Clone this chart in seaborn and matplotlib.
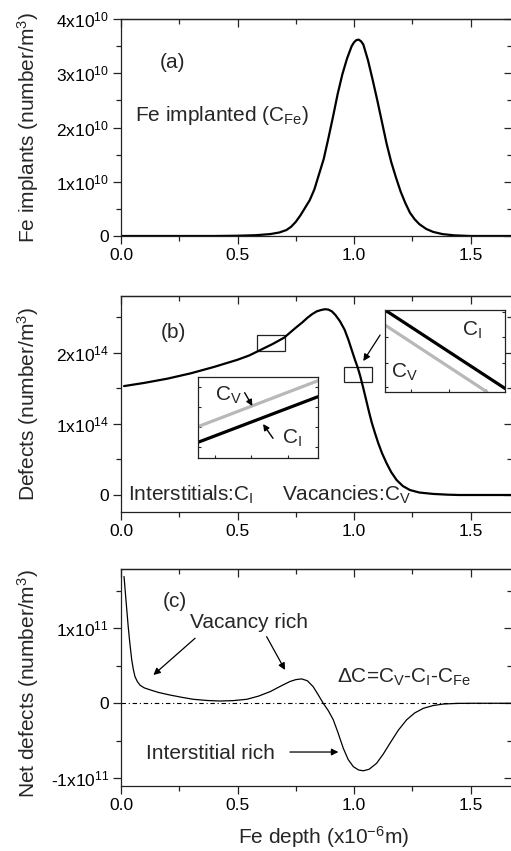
import matplotlib
matplotlib.use("Agg")
import matplotlib.pyplot as plt
import seaborn as sns
import pandas as pd
from matplotlib.patches import Rectangle
from matplotlib.ticker import NullFormatter

# ---------------- data ----------------
# panel (a): Fe implant profile, units of 1e10 number/m^3
depth_a = [0.00, 0.40, 0.50, 0.58, 0.64, 0.68, 0.71, 0.73, 0.75, 0.77, 0.79, 0.81,
           0.83, 0.85, 0.87, 0.89, 0.91, 0.93, 0.95, 0.97, 0.99, 1.00, 1.01, 1.02,
           1.03, 1.04, 1.06, 1.08, 1.10, 1.12, 1.14, 1.16, 1.18, 1.20, 1.22, 1.24,
           1.26, 1.28, 1.31, 1.34, 1.38, 1.43, 1.50, 1.68]
fe_implants = [0.00, 0.00, 0.005, 0.015, 0.035, 0.065, 0.11, 0.17, 0.26, 0.38, 0.52, 0.66,
               0.86, 1.14, 1.42, 1.80, 2.20, 2.62, 2.98, 3.27, 3.50, 3.57, 3.61, 3.62,
               3.59, 3.53, 3.24, 2.88, 2.50, 2.10, 1.70, 1.36, 1.08, 0.82, 0.61, 0.43,
               0.31, 0.22, 0.13, 0.075, 0.035, 0.012, 0.00, 0.00]

# panel (b): defects, units of 1e14 number/m^3
depth_b = [0.013, 0.10, 0.20, 0.30, 0.40, 0.50, 0.55, 0.60, 0.65, 0.70, 0.75, 0.78,
           0.80, 0.82, 0.84, 0.86, 0.876, 0.89, 0.905, 0.92, 0.94, 0.96, 0.976, 0.99,
           1.004, 1.015, 1.026, 1.040, 1.054, 1.065, 1.076, 1.09, 1.104, 1.12, 1.14,
           1.16, 1.183, 1.21, 1.24, 1.28, 1.34, 1.40, 1.45, 1.68]
defects = [1.53, 1.575, 1.635, 1.71, 1.80, 1.90, 1.96, 2.04, 2.12, 2.21, 2.35, 2.43,
           2.49, 2.54, 2.58, 2.60, 2.61, 2.605, 2.58, 2.53, 2.44, 2.32, 2.18, 2.04,
           1.90, 1.80, 1.68, 1.50, 1.31, 1.16, 1.02, 0.87, 0.73, 0.59, 0.445,
           0.32, 0.21, 0.125, 0.07, 0.035, 0.015, 0.005, 0.00, 0.00]

# panel (c): net defects, units of 1e11 number/m^3
depth_c = [0.013, 0.022, 0.031, 0.038, 0.046, 0.053, 0.060, 0.070, 0.082, 0.10, 0.124,
           0.16, 0.21, 0.26, 0.31, 0.37, 0.425, 0.48, 0.54, 0.59, 0.64, 0.68, 0.725,
           0.75, 0.775, 0.80, 0.825, 0.845, 0.868, 0.89, 0.911, 0.93, 0.954, 0.975,
           0.997, 1.02, 1.040, 1.065, 1.097, 1.125, 1.155, 1.19, 1.226, 1.26, 1.298,
           1.34, 1.384, 1.44, 1.51, 1.68]
net_defects = [1.69, 1.35, 1.02, 0.80, 0.58, 0.45, 0.355, 0.29, 0.24, 0.205, 0.18,
               0.145, 0.11, 0.08, 0.053, 0.037, 0.03, 0.035, 0.053, 0.095, 0.155, 0.22,
               0.29, 0.315, 0.325, 0.30, 0.22, 0.12, 0.0, -0.10, -0.22, -0.38, -0.60,
               -0.75, -0.845, -0.89, -0.90, -0.88, -0.80, -0.68, -0.53, -0.36, -0.22,
               -0.13, -0.067, -0.03, -0.01, -0.002, 0.0, 0.0]

# zoom insets (normalised inset coordinates)
inset_x = [0.0, 1.0]
inset1_cv = [0.388, 0.951]
inset1_ci = [0.196, 0.755]
inset2_ci_x = [0.0, 1.0]
inset2_ci = [1.0, 0.04]
inset2_cv_x = [0.0, 0.847]
inset2_cv = [0.816, 0.0]

x_ticks = [0.0, 0.5, 1.0, 1.5]
x_minor = [0.25, 0.75, 1.25]
x_tick_labels = ["0.0", "0.5", "1.0", "1.5"]
a_yticks = [0, 1, 2, 3, 4]
a_ylabels = ["0", "1x10$^{10}$", "2x10$^{10}$", "3x10$^{10}$", "4x10$^{10}$"]
b_yticks = [0, 1, 2]
b_ylabels = ["0", "1x10$^{14}$", "2x10$^{14}$"]
c_yticks = [-1, 0, 1]
c_ylabels = ["-1x10$^{11}$", "0", "1x10$^{11}$"]

# ---------------- style ----------------
sns.set_theme(style="ticks")
plt.rcParams["font.family"] = ["Liberation Sans", "DejaVu Sans"]
plt.rcParams["mathtext.fontset"] = "custom"
plt.rcParams["mathtext.rm"] = "Liberation Sans"
plt.rcParams["mathtext.it"] = "Liberation Sans:italic"
plt.rcParams["mathtext.bf"] = "Liberation Sans:bold"
plt.rcParams["mathtext.default"] = "regular"
plt.rcParams["axes.edgecolor"] = "#222222"
plt.rcParams["axes.linewidth"] = 0.9

W, H = 511, 851
fig = plt.figure(figsize=(W / 100, H / 100), dpi=100)


def px_axes(left, top, right, bottom):
    return fig.add_axes([left / W, 1 - bottom / H, (right - left) / W, (bottom - top) / H])


XMAX = (512 - 121) / 233.0
TXT = 15
TICK = 12.5


def style(ax, yticks, ylabels, yminor, ylim):
    ax.set_xlim(0, XMAX)
    ax.set_ylim(*ylim)
    ax.set_xticks(x_ticks, x_tick_labels)
    ax.set_xticks(x_minor, minor=True)
    ax.set_yticks(yticks, ylabels)
    ax.set_yticks(yminor, minor=True)
    ax.tick_params(which="major", direction="out", length=5.5, width=0.9,
                   labelsize=TICK, pad=3, colors="#222222", labelcolor="black")
    ax.tick_params(which="minor", direction="out", length=3.3, width=0.9, colors="#222222")
    for s in ax.spines.values():
        s.set_visible(True)
        s.set_linewidth(0.9)
    top = ax.secondary_xaxis("top")
    top.set_xticks(x_ticks)
    top.set_xticks(x_minor, minor=True)
    top.xaxis.set_major_formatter(NullFormatter())
    top.tick_params(which="major", direction="in", length=5.5, width=0.9)
    top.tick_params(which="minor", direction="in", length=3.3, width=0.9)
    right = ax.secondary_yaxis("right")
    right.set_yticks(yticks)
    right.set_yticks(yminor, minor=True)
    right.yaxis.set_major_formatter(NullFormatter())
    right.tick_params(which="major", direction="in", length=5.5, width=0.9)
    right.tick_params(which="minor", direction="in", length=3.3, width=0.9)
    ax.set_xlabel("")
    ax.set_ylabel("")


# ---------------- panel (a) ----------------
ax_a = px_axes(121, 19, 512, 236)
df_a = pd.DataFrame({"depth": depth_a, "fe": fe_implants})
sns.lineplot(data=df_a, x="depth", y="fe", ax=ax_a, color="black", lw=1.6, sort=False)
style(ax_a, a_yticks, a_ylabels, [0.5, 1.5, 2.5, 3.5], (0, 4))
ax_a.set_ylabel("Fe implants (number/m$^3$)", fontsize=TXT)
ax_a.yaxis.set_label_coords(-0.205, 0.5)
ax_a.text(0.223, 3.09, "(a)", fontsize=TXT, ha="center", va="baseline")
ax_a.text(0.06, 2.12, "Fe implanted (C$_{Fe}$)", fontsize=TXT, ha="left", va="baseline")

# ---------------- panel (b) ----------------
ax_b = px_axes(121, 295.7, 512, 512.3)
df_b = pd.DataFrame({"depth": depth_b, "def": defects})
sns.lineplot(data=df_b, x="depth", y="def", ax=ax_b, color="black", lw=1.6, sort=False)
style(ax_b, b_yticks, b_ylabels, [0.5, 1.5, 2.5], (-0.243, 2.80))
ax_b.set_ylabel("Defects (number/m$^3$)", fontsize=TXT)
ax_b.yaxis.set_label_coords(-0.205, 0.5)
ax_b.text(0.223, 2.20, "(b)", fontsize=TXT, ha="center", va="baseline")
ax_b.text(0.03, -0.08, "Interstitials:C$_I$", fontsize=TXT, ha="left", va="baseline")
ax_b.text(0.69, -0.08, "Vacancies:C$_V$", fontsize=TXT, ha="left", va="baseline")
ax_b.add_patch(Rectangle((0.582, 2.03), 0.122, 0.22, fill=False, lw=0.9, ec="#222222"))
ax_b.add_patch(Rectangle((0.958, 1.59), 0.121, 0.21, fill=False, lw=0.9, ec="#222222"))
ax_b.annotate("", xy=(1.040, 1.882), xytext=(1.112, 2.247),
              arrowprops=dict(arrowstyle="-|>", color="black", lw=0.9,
                              mutation_scale=10, shrinkA=0, shrinkB=0))


def inset_style(ax, xt, yt):
    ax.set_xlim(0, 1)
    ax.set_ylim(0, 1)
    ax.set_xticks(xt)
    ax.set_yticks(yt)
    ax.tick_params(which="major", direction="in", length=2.5, width=0.8,
                   labelbottom=False, labelleft=False,
                   top=False, right=True, bottom=True, left=True)
    for s in ax.spines.values():
        s.set_visible(True)
        s.set_linewidth(0.9)
    ax.set_xlabel("")
    ax.set_ylabel("")


# inset 1
ins1 = px_axes(198, 376.7, 318, 458.3)
sns.lineplot(x=inset_x, y=inset1_cv, ax=ins1, color="#b8b8b8", lw=2.3)
sns.lineplot(x=inset_x, y=inset1_ci, ax=ins1, color="black", lw=2.3)
inset_style(ins1, [0.139, 0.444, 0.75], [0.143, 0.388, 0.633, 0.878])
ins1.text(0.14, 0.70, "C$_V$", fontsize=TXT, ha="left", va="baseline")
ins1.text(0.70, 0.18, "C$_I$", fontsize=TXT, ha="left", va="baseline")
ins1.annotate("", xy=(0.453, 0.641), xytext=(0.389, 0.804),
              arrowprops=dict(arrowstyle="-|>", color="black", lw=1.0,
                              mutation_scale=9, shrinkA=0, shrinkB=0))
ins1.annotate("", xy=(0.542, 0.42), xytext=(0.625, 0.245),
              arrowprops=dict(arrowstyle="-|>", color="black", lw=1.0,
                              mutation_scale=9, shrinkA=0, shrinkB=0))

# inset 2
ins2 = px_axes(385, 310, 505, 391.7)
sns.lineplot(x=inset2_cv_x, y=inset2_cv, ax=ins2, color="#b8b8b8", lw=2.3)
sns.lineplot(x=inset2_ci_x, y=inset2_ci, ax=ins2, color="black", lw=2.3)
inset_style(ins2, [0.22, 0.53, 0.84], [0.0625, 0.354, 0.667, 0.98])
ins2.text(0.64, 0.68, "C$_I$", fontsize=TXT, ha="left", va="baseline")
ins2.text(0.05, 0.17, "C$_V$", fontsize=TXT, ha="left", va="baseline")

# ---------------- panel (c) ----------------
ax_c = px_axes(121, 569, 512, 786)
df_c = pd.DataFrame({"depth": depth_c, "net": net_defects})
ax_c.axhline(0, color="black", lw=0.8, ls=(0, (4, 2.5, 1, 2.5)))
sns.lineplot(data=df_c, x="depth", y="net", ax=ax_c, color="black", lw=0.9, sort=False)
style(ax_c, c_yticks, c_ylabels, [-0.5, 0.5, 1.5], (-1.103, 1.79))
ax_c.set_ylabel("Net defects (number/m$^3$)", fontsize=TXT)
ax_c.yaxis.set_label_coords(-0.205, 0.47)
ax_c.set_xlabel("Fe depth (x10$^{-6}$m)", fontsize=TXT)
ax_c.xaxis.set_label_coords(0.517, -0.175)
ax_c.text(0.18, 1.29, "(c)", fontsize=TXT, ha="left", va="baseline")
ax_c.text(0.296, 1.0, "Vacancy rich", fontsize=TXT, ha="left", va="baseline")
ax_c.text(0.926, 0.275, "ΔC=C$_V$-C$_I$-C$_{Fe}$", fontsize=TXT, ha="left", va="baseline")
ax_c.text(0.106, -0.747, "Interstitial rich", fontsize=TXT, ha="left", va="baseline")
arrow_kw = dict(arrowstyle="-|>", color="black", lw=0.9, mutation_scale=10,
                shrinkA=0, shrinkB=0)
ax_c.annotate("", xy=(0.139, 0.377), xytext=(0.318, 0.867), arrowprops=arrow_kw)
ax_c.annotate("", xy=(0.704, 0.444), xytext=(0.625, 0.888), arrowprops=arrow_kw)
ax_c.annotate("", xy=(0.933, -0.65), xytext=(0.725, -0.65), arrowprops=arrow_kw)

fig.savefig("out.png", dpi=100)
